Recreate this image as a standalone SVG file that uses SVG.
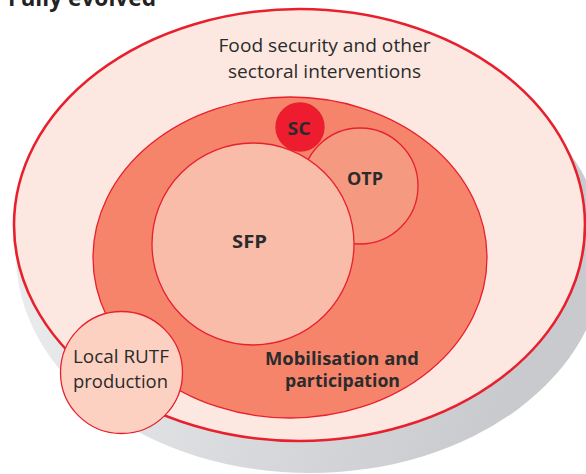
<svg xmlns="http://www.w3.org/2000/svg" width="586" height="474" viewBox="0 0 586 474">
<defs>
<linearGradient id="shadowGrad" x1="0" y1="0" x2="1" y2="0.3">
<stop offset="0" stop-color="#f1f2f4"/>
<stop offset="1" stop-color="#c8cacd"/>
</linearGradient>
</defs>
<style>
.ring{stroke:#e8202e;stroke-width:1.3}
.lbl{font-family:"Open Sans","Noto Sans",sans-serif;fill:#2b2b2b;text-anchor:middle}
.reg{font-size:19px}
.bold{font-size:18px;font-weight:bold}
</style>
<rect width="586" height="474" fill="#ffffff"/>
<text x="8" y="6" font-family="'Open Sans','Noto Sans',sans-serif" font-size="23" font-weight="bold" fill="#222222" textLength="148" lengthAdjust="spacingAndGlyphs">Fully evolved</text>
<g id="shadow">
<ellipse cx="310" cy="255" rx="294" ry="218" fill="url(#shadowGrad)"/>
</g>
<g id="food-security">
<ellipse cx="299.5" cy="225" rx="285.5" ry="216" fill="#fce8e0" stroke="#e8202e" stroke-width="2.6"/>
<text class="lbl reg" x="324.5" y="52" textLength="212" lengthAdjust="spacingAndGlyphs">Food security and other</text>
<text class="lbl reg" x="324.5" y="78" textLength="193" lengthAdjust="spacingAndGlyphs">sectoral interventions</text>
</g>
<g id="mobilisation">
<ellipse cx="290" cy="257.5" rx="197" ry="160.5" fill="#f5846b" class="ring"/>
<text class="lbl bold" x="342" y="365" textLength="154" lengthAdjust="spacingAndGlyphs">Mobilisation and</text>
<text class="lbl bold" x="342.5" y="387" textLength="115" lengthAdjust="spacingAndGlyphs">participation</text>
</g>
<g id="otp">
<circle cx="360" cy="186" r="58" fill="#f59a80" class="ring"/>
<text class="lbl bold" x="365" y="185" textLength="36" lengthAdjust="spacingAndGlyphs">OTP</text>
</g>
<g id="sfp">
<circle cx="253" cy="244" r="101" fill="#f9bca9" class="ring"/>
<text class="lbl bold" x="249.5" y="248" textLength="35" lengthAdjust="spacingAndGlyphs">SFP</text>
</g>
<g id="sc">
<circle cx="300" cy="127" r="24" fill="#ed1c2e" class="ring"/>
<text class="lbl bold" x="299" y="135" textLength="23" lengthAdjust="spacingAndGlyphs">SC</text>
</g>
<g id="rutf">
<circle cx="121.5" cy="372.5" r="61" fill="#fcd1c2" class="ring"/>
<text class="lbl reg" x="121" y="363" textLength="96" lengthAdjust="spacingAndGlyphs">Local RUTF</text>
<text class="lbl reg" x="120.5" y="388" textLength="95" lengthAdjust="spacingAndGlyphs">production</text>
</g>
<g id="connectors"/>
</svg>
